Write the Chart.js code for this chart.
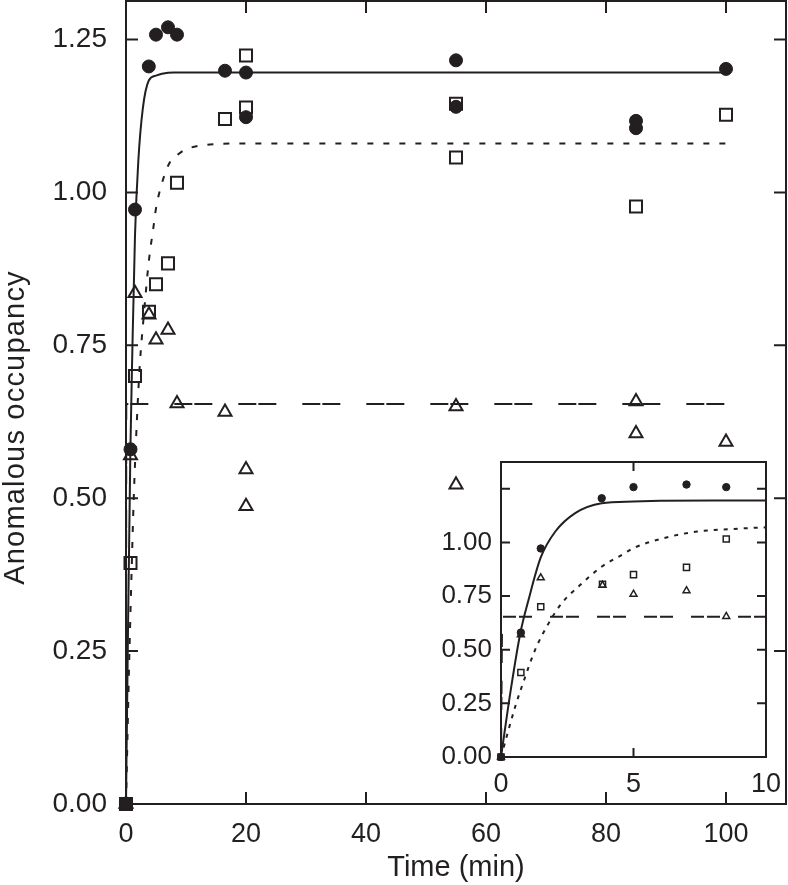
<!DOCTYPE html>
<html>
<head>
<meta charset="utf-8">
<script src="https://cdn.jsdelivr.net/npm/chart.js@4.4.1/dist/chart.umd.min.js"></script>
<style>
  html, body { margin: 0; padding: 0; background: #fff; }
  #wrap { position: relative; width: 788px; height: 885px; }
  #mainChart { position: absolute; left: 0; top: 0; }
  #insetChart { position: absolute; left: 420px; top: 450px; }
</style>
</head>
<body>
<div id="wrap">
  <canvas id="mainChart" width="788" height="885"></canvas>
  <canvas id="insetChart" width="368" height="350"></canvas>
</div>
<script>
// measured points, time in min
const circleT = [0, 0.75, 1.5, 3.8, 5, 7, 8.5, 16.5, 20, 20, 55, 55, 85, 85, 100];
const circleY = [0, 0.58, 0.972, 1.206, 1.258, 1.27, 1.258, 1.199, 1.196, 1.123, 1.216, 1.14, 1.117, 1.105, 1.202];

const squareT = [0, 0.75, 1.5, 3.83, 5, 7, 8.5, 16.5, 20, 20, 55, 55, 85, 100];
const squareY = [0, 0.394, 0.70, 0.805, 0.85, 0.884, 1.016, 1.12, 1.224, 1.139, 1.145, 1.057, 0.977, 1.127];

const triT = [0, 0.75, 1.5, 3.83, 5, 7, 8.5, 16.5, 20, 20, 55, 55, 85, 85, 100];
const triY = [0, 0.57, 0.835, 0.80, 0.759, 0.775, 0.655, 0.641, 0.547, 0.487, 0.65, 0.522, 0.658, 0.606, 0.592];

// fitted curves
const solidT = [0, 0.35, 0.73, 1.04, 1.5, 2.05, 2.8, 3.8, 5, 6, 8, 10, 20, 100];
const solidY = [0, 0.298, 0.578, 0.733, 0.93, 1.051, 1.137, 1.183, 1.191, 1.194, 1.196, 1.196, 1.196, 1.196];

const dotT = [0, 0.54, 0.92, 1.29, 1.8, 2.3, 2.93, 3.81, 4.57, 5, 6.14, 7.4, 8.65, 9.9, 12, 15, 20, 100];
const dotY = [0, 0.236, 0.376, 0.50, 0.624, 0.718, 0.795, 0.888, 0.943, 0.974, 1.02, 1.051, 1.062, 1.07, 1.076, 1.079, 1.08, 1.08];

const dashT = [0, 0.05, 100];
const dashY = [0, 0.654, 0.654];

const mainXTicks = [0, 20, 40, 60, 80, 100];
const insetXTicks = [0, 5, 10];

const INK = '#231f20';
const FONT = "'Liberation Sans', Arial, Helvetica, sans-serif";

function pts(xs, ys) {
    return xs.map((x, i) => ({ x: x, y: ys[i] }));
}

// box around the plot with inward ticks on all four sides
const frameTicks = {
    id: 'frameTicks',
    beforeDraw(chart, args, opts) {
        if (!opts.fill) return;
        const a = chart.chartArea;
        chart.ctx.save();
        chart.ctx.fillStyle = '#fff';
        chart.ctx.fillRect(a.left, a.top, a.right - a.left, a.bottom - a.top);
        chart.ctx.restore();
    },
    beforeDatasetsDraw(chart, args, opts) {
        const { ctx, chartArea: a, scales } = chart;
        const len = opts.len;
        ctx.save();
        ctx.strokeStyle = INK;
        ctx.lineWidth = opts.width;
        ctx.strokeRect(a.left, a.top, a.right - a.left, a.bottom - a.top);
        ctx.beginPath();
        scales.x.ticks.forEach(t => {
            const px = scales.x.getPixelForValue(t.value);
            ctx.moveTo(px, a.bottom); ctx.lineTo(px, a.bottom - len);
            ctx.moveTo(px, a.top); ctx.lineTo(px, a.top + len);
        });
        scales.y.ticks.forEach(t => {
            const py = scales.y.getPixelForValue(t.value);
            ctx.moveTo(a.left, py); ctx.lineTo(a.left + len, py);
            ctx.moveTo(a.right, py); ctx.lineTo(a.right - len, py);
        });
        ctx.stroke();
        ctx.restore();
    }
};

// rotated y title, drawn a little below the middle like the original
const yTitle = {
    id: 'yTitle',
    afterDraw(chart, args, opts) {
        const { ctx, chartArea: a } = chart;
        ctx.save();
        ctx.translate(opts.x, (a.top + a.bottom) / 2 + opts.shift);
        ctx.rotate(-Math.PI / 2);
        ctx.font = opts.size + 'px ' + FONT;
        ctx.letterSpacing = opts.spacing + 'px';
        ctx.fillStyle = INK;
        ctx.textAlign = 'center';
        ctx.textBaseline = 'middle';
        ctx.fillText(opts.text, 0, 0);
        ctx.restore();
    }
};

function buildDatasets(s) {
    const squareFill = c => (c.raw && c.raw.y === 0) ? INK : 'rgba(0,0,0,0)';
    return [
        {
            data: pts(circleT, circleY), showLine: false, clip: false,
            pointStyle: 'circle', pointRadius: s.circle, pointBorderWidth: 1,
            pointBackgroundColor: INK, pointBorderColor: INK
        },
        {
            data: pts(squareT, squareY), showLine: false, clip: false,
            pointStyle: 'rect', pointRadius: s.rect, pointBorderWidth: s.bw,
            pointBackgroundColor: squareFill, pointBorderColor: INK
        },
        {
            data: pts(triT, triY), showLine: false, clip: false,
            pointStyle: 'triangle', pointRadius: s.tri, pointBorderWidth: s.bw,
            pointBackgroundColor: 'rgba(0,0,0,0)', pointBorderColor: INK
        },
        {
            data: pts(solidT, solidY), pointRadius: 0, borderColor: INK, borderWidth: 2,
            cubicInterpolationMode: 'monotone'
        },
        {
            data: pts(dotT, dotY), pointRadius: 0, borderColor: INK, borderWidth: 2,
            borderDash: s.dotDash, cubicInterpolationMode: 'monotone'
        },
        {
            data: pts(dashT, dashY), pointRadius: 0, borderColor: INK, borderWidth: 2,
            borderDash: s.dashDash, cubicInterpolationMode: 'monotone'
        }
    ];
}

new Chart(document.getElementById('mainChart'), {
    type: 'line',
    data: {
        datasets: buildDatasets({ circle: 6.5, rect: 8.5, tri: 7.5, bw: 2, dotDash: [6, 10], dashDash: [18, 2, 18, 26] })
    },
    options: {
        responsive: false,
        animation: false,
        devicePixelRatio: 1,
        layout: { autoPadding: false, padding: { left: 0, top: 1, right: 2, bottom: 0 } },
        plugins: {
            legend: { display: false },
            tooltip: { enabled: false },
            frameTicks: { len: 12, width: 2 },
            yTitle: { text: 'Anomalous occupancy', x: 16, shift: 25, size: 29, spacing: 1.2 }
        },
        scales: {
            x: {
                type: 'linear', min: 0, max: 110,
                grid: { display: false, drawTicks: false }, border: { display: false },
                afterBuildTicks: s => { s.ticks = mainXTicks.map(v => ({ value: v })); },
                ticks: { padding: 14, color: INK, maxRotation: 0, font: { family: FONT, size: 27 } },
                title: { display: true, text: 'Time (min)', color: INK, font: { family: FONT, size: 29 }, padding: { top: 0, bottom: 0 } },
                afterFit: s => { s.height = 81; s.paddingLeft = 0; s.paddingRight = 0; }
            },
            y: {
                type: 'linear', min: 0, max: 1.313,
                grid: { display: false, drawTicks: false }, border: { display: false },
                ticks: { stepSize: 0.25, includeBounds: false, padding: 19, color: INK,
                    font: { family: FONT, size: 28 }, callback: v => v.toFixed(2) },
                afterFit: s => { s.width = 126; s.paddingTop = 0; s.paddingBottom = 0; }
            }
        }
    },
    plugins: [frameTicks, yTitle]
});

new Chart(document.getElementById('insetChart'), {
    type: 'line',
    data: {
        datasets: buildDatasets({ circle: 3.7, rect: 4.3, tri: 4, bw: 1.5, dotDash: [4, 6], dashDash: [13, 3, 13, 18] })
    },
    options: {
        responsive: false,
        animation: false,
        devicePixelRatio: 1,
        layout: { autoPadding: false, padding: { left: 0, top: 12, right: 22, bottom: 0 } },
        plugins: {
            legend: { display: false },
            tooltip: { enabled: false },
            frameTicks: { len: 9, width: 2, fill: true }
        },
        scales: {
            x: {
                type: 'linear', min: 0, max: 10,
                grid: { display: false, drawTicks: false }, border: { display: false },
                afterBuildTicks: s => { s.ticks = insetXTicks.map(v => ({ value: v })); },
                ticks: { padding: 11, color: INK, maxRotation: 0, font: { family: FONT, size: 27 } },
                afterFit: s => { s.height = 43; s.paddingLeft = 0; s.paddingRight = 0; }
            },
            y: {
                type: 'linear', min: 0, max: 1.375,
                grid: { display: false, drawTicks: false }, border: { display: false },
                ticks: { stepSize: 0.25, includeBounds: false, padding: 9, color: INK,
                    font: { family: FONT, size: 26 },
                    callback: v => v > 1.1 ? '' : v.toFixed(2) },
                afterFit: s => { s.width = 81; s.paddingTop = 0; s.paddingBottom = 0; }
            }
        }
    },
    plugins: [frameTicks]
});
</script>
</body>
</html>
